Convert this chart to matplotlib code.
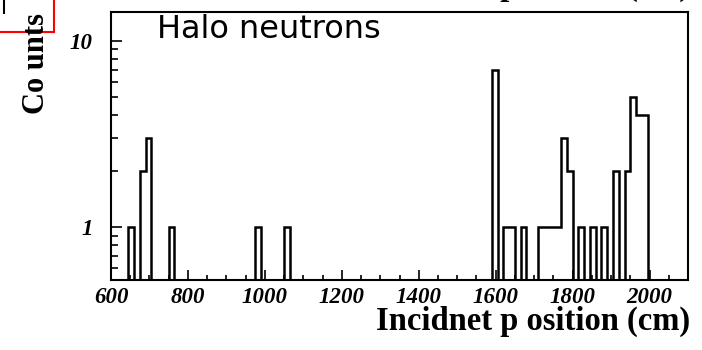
import numpy as np
import matplotlib
matplotlib.use("Agg")
import matplotlib.pyplot as plt
from matplotlib.ticker import FixedLocator, FixedFormatter, NullFormatter
from matplotlib.lines import Line2D
from matplotlib.font_manager import FontProperties

# ---- data ----
x_min, x_max = 600, 2100
bin_width = 15
# lower edges of non-empty bins (cm) and their counts
bin_low = [645, 675, 690, 750, 975, 1050, 1590, 1620, 1635, 1665,
           1710, 1725, 1740, 1755, 1770, 1785, 1815, 1845, 1875,
           1905, 1935, 1950, 1965, 1980]
counts = [1, 2, 3, 1, 1, 1, 7, 1, 1, 1,
          1, 1, 1, 1, 3, 2, 1, 1, 1,
          2, 2, 5, 4, 4]
x_ticks = [600, 800, 1000, 1200, 1400, 1600, 1800, 2000]
x_ticklabels = ["600", "800", "1000", "1200", "1400", "1600", "1800", "2000"]
y_ticks = [1, 10]
y_ticklabels = ["1", "10"]
y_lim = (0.519, 14.3)
title_text = "Incidnet p osition (cm)"
x_label = "Incidnet p osition (cm)"
y_label = "Co unts"
legend_text = "Halo neutrons"

# ---- build histogram ----
edges = np.arange(x_min, x_max + bin_width, bin_width)
values = np.zeros(len(edges) - 1)
for lo, c in zip(bin_low, counts):
    values[int(round((lo - x_min) / bin_width))] = c
plot_vals = np.where(values > 0, values, 1e-3)

fig = plt.figure(figsize=(7.02, 3.5), dpi=100)
ax = fig.add_axes([111 / 702, 70 / 350, 577 / 702, 268 / 350])
ax.set_yscale("log")
ax.stairs(plot_vals, edges, baseline=None, color="black", lw=1.8)
ax.set_xlim(x_min, x_max)
ax.set_ylim(*y_lim)

tick_fp = FontProperties(family="Liberation Serif", style="italic", weight="bold", size=16.5)
ax.xaxis.set_major_locator(FixedLocator(x_ticks))
ax.xaxis.set_major_formatter(FixedFormatter(x_ticklabels))
ax.xaxis.set_minor_locator(FixedLocator(np.arange(x_min, x_max + 1, 50)))
ax.yaxis.set_major_locator(FixedLocator(y_ticks))
ax.yaxis.set_major_formatter(FixedFormatter(y_ticklabels))
ax.yaxis.set_minor_locator(FixedLocator([0.6, 0.7, 0.8, 0.9] + list(range(2, 10))))
ax.yaxis.set_minor_formatter(NullFormatter())

ax.tick_params(axis="x", which="major", direction="in", length=7.2, width=1.2, pad=5,
               top=False)
ax.tick_params(axis="x", which="minor", direction="in", length=3.8, width=1.2, top=False)
ax.tick_params(axis="y", which="major", direction="in", length=8, width=1.2, pad=13,
               right=False)
ax.tick_params(axis="y", which="minor", direction="in", length=4.8, width=1.2, right=False)
for lab in ax.get_xticklabels() + ax.get_yticklabels():
    lab.set_fontproperties(tick_fp)

for s in ax.spines.values():
    s.set_linewidth(1.5)

label_font = dict(family="Liberation Serif", weight="bold", size=23.5)
fig.text(690 / 702, 1 - 330 / 350, x_label, ha="right", va="baseline", **label_font)
fig.text(690 / 702, 1 + 5 / 350, title_text, ha="right", va="baseline", **label_font)
fig.text(36 / 702, 1 - 63 / 350, y_label, ha="center", va="center", rotation=90,
         family="Liberation Serif", weight="bold", size=22)

fig.text(157 / 702, 1 - 14 / 350, legend_text,
         ha="left", va="top", family="DejaVu Sans", size=23, color="black")

# red box in top-left corner and a stray black mark
fig.add_artist(Line2D([0, 54 / 702], [1 - 32 / 350, 1 - 32 / 350],
                      transform=fig.transFigure, color="red", lw=1.5))
fig.add_artist(Line2D([54 / 702, 54 / 702], [1 - 32 / 350, 1.0],
                      transform=fig.transFigure, color="red", lw=1.5))
fig.add_artist(Line2D([4 / 702, 4 / 702], [1 - 13 / 350, 1.0],
                      transform=fig.transFigure, color="black", lw=1.5))

fig.savefig("out.png", dpi=100)
